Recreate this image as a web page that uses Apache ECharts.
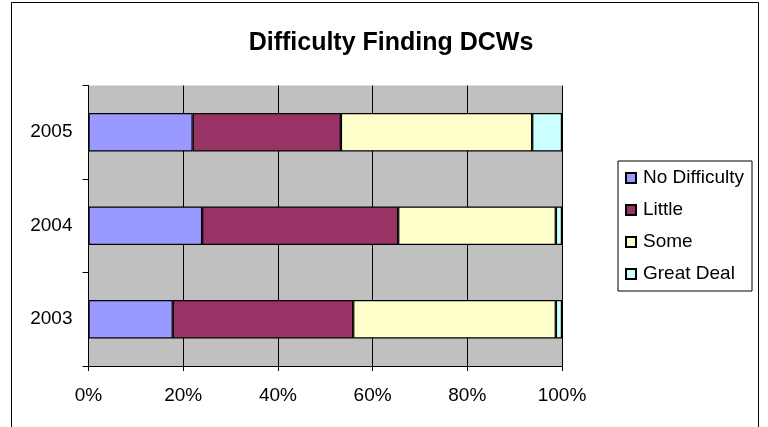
<!DOCTYPE html>
<html>
<head>
<meta charset="utf-8">
<script src="https://cdn.jsdelivr.net/npm/echarts@6/dist/echarts.min.js"></script>
<style>
  html, body { margin: 0; padding: 0; background: #fff; }
  #chart { width: 768px; height: 427px; }
</style>
</head>
<body>
<div id="chart"></div>
<script>
// Survey years, bottom to top
const years = ['2003', '2004', '2005'];

// Share of respondents (%) per difficulty level
const noDifficulty = [17.8, 24.0, 22.0];
const little       = [38.1, 41.4, 31.3];
const some         = [42.8, 33.3, 40.4];
const greatDeal    = [1.3, 1.3, 6.3];

const seriesNames  = ['No Difficulty', 'Little', 'Some', 'Great Deal'];
const seriesColors = ['#9999FF', '#993366', '#FFFFCC', '#CCFFFF'];
const seriesValues = [noDifficulty, little, some, greatDeal];

const xTicks = [0, 20, 40, 60, 80, 100];

const font = 'Liberation Sans, Arial, sans-serif';

const chart = echarts.init(document.getElementById('chart'), null, { renderer: 'canvas' });

chart.setOption({
  animation: false,
  backgroundColor: '#ffffff',
  textStyle: { fontFamily: font },
  title: {
    text: 'Difficulty Finding DCWs',
    left: 386,
    textAlign: 'center',
    top: 26,
    textStyle: { fontFamily: font, fontSize: 25, fontWeight: 'bold', color: '#000' }
  },
  graphic: [{
    type: 'rect',
    z: -10,
    shape: { x: 11.5, y: 2.5, width: 747, height: 460 },
    style: { fill: 'none', stroke: '#000', lineWidth: 1 }
  }],
  legend: {
    orient: 'vertical',
    left: 618,
    top: 161,
    padding: [7, 8, 7, 7],
    itemWidth: 10,
    itemHeight: 10,
    itemGap: 12,
    icon: 'rect',
    borderColor: '#000',
    borderWidth: 1,
    backgroundColor: '#fff',
    textStyle: { fontFamily: font, fontSize: 19, color: '#000', lineHeight: 20, padding: [0, 0, 0, 2] },
    data: seriesNames
  },
  grid: {
    left: 88.5,
    right: 206,
    top: 85.5,
    bottom: 61,
    show: true,
    backgroundColor: '#C0C0C0',
    borderWidth: 0
  },
  xAxis: {
    type: 'value',
    min: 0,
    max: 100,
    interval: 20,
    axisLine: { show: true, lineStyle: { color: '#000', width: 1 } },
    axisTick: { show: true, length: 5, lineStyle: { color: '#000' } },
    splitLine: { show: true, lineStyle: { color: '#000', width: 1 } },
    axisLabel: {
      margin: 20,
      fontFamily: font,
      fontSize: 19,
      color: '#000',
      formatter: v => (xTicks.includes(v) ? v + '%' : '')
    }
  },
  yAxis: {
    type: 'category',
    data: years,
    axisLine: { show: true, lineStyle: { color: '#000', width: 1 } },
    axisTick: { show: true, length: 6, lineStyle: { color: '#000' } },
    axisLabel: { margin: 16, fontFamily: font, fontSize: 19, color: '#000' },
    splitLine: { show: false }
  },
  series: seriesNames.map((name, i) => ({
    name: name,
    type: 'bar',
    stack: 'total',
    barCategoryGap: '59%',
    data: seriesValues[i],
    itemStyle: { color: seriesColors[i], borderColor: '#000', borderWidth: 1.2 },
    emphasis: { disabled: true }
  }))
});
</script>
</body>
</html>
